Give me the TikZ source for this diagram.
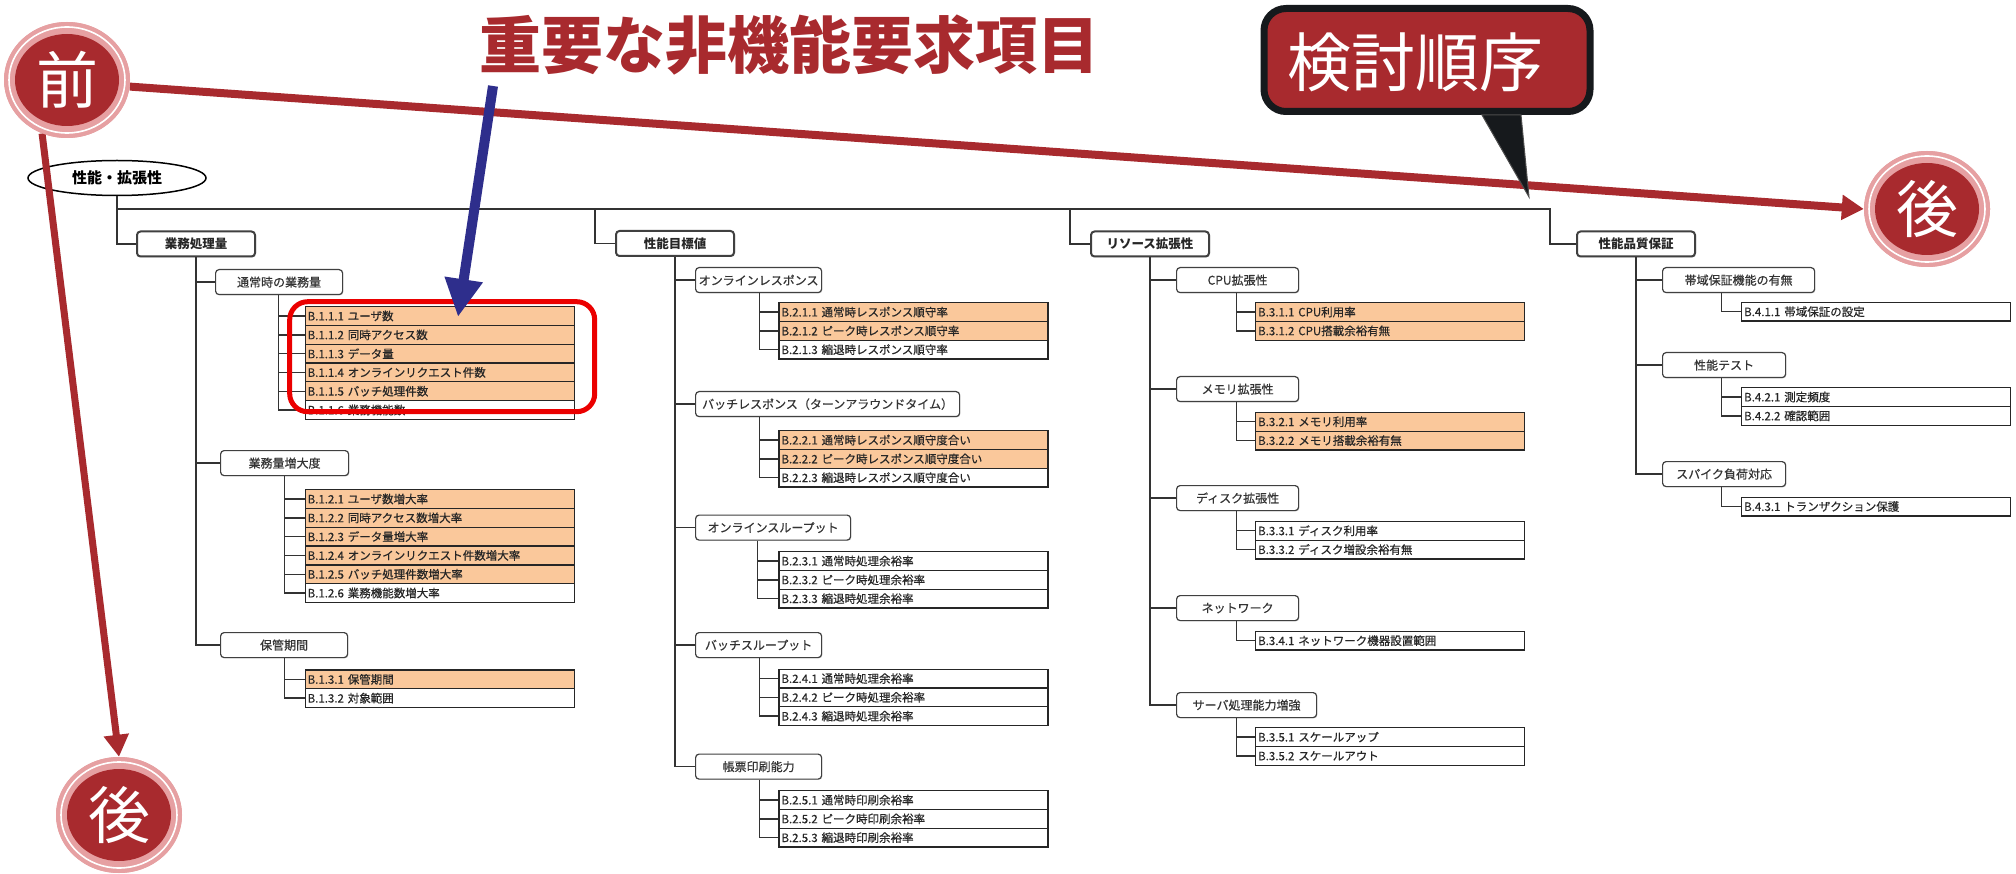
\documentclass[tikz,border=0pt]{standalone}
\usepackage{fontspec}
\setmainfont{Noto Sans CJK JP}
\newfontfamily\jpm[FakeBold=0.5]{Noto Sans CJK JP}
\usetikzlibrary{arrows.meta,shapes.geometric,shadows}
\definecolor{dred}{RGB}{168,42,46}
\definecolor{pinkc}{RGB}{230,160,162}
\definecolor{orfill}{RGB}{250,200,155}
\definecolor{bluea}{RGB}{46,46,140}
\definecolor{hlred}{RGB}{235,0,0}
\definecolor{calloutb}{RGB}{22,25,28}
\begin{document}
\begin{tikzpicture}[x=1pt,y=-1pt,
  conn/.style={draw=black!80, line width=1.4pt},
  leafbox/.style={draw=black!85, line width=1.3pt, fill=white, anchor=north west,
    minimum height=18.8pt, text width=264pt, inner xsep=2.5pt, inner ysep=0pt,
    align=left, font=\jpm\fontsize{11.5}{13}\selectfont, text=black!85},
  leafo/.style={leafbox, fill=orfill},
  midbox/.style={draw=black!75, line width=1.2pt, rounded corners=3.5pt, fill=white,
    anchor=north west, minimum height=25pt, inner sep=0pt,
    font=\jpm\fontsize{12}{14}\selectfont, text=black!80,
    drop shadow={shadow xshift=0.8pt, shadow yshift=-0.8pt, fill=black!25}},
  topbox/.style={draw=black!75, line width=2pt, rounded corners=3.5pt, fill=white,
    anchor=north west, minimum height=25pt, minimum width=118pt, inner sep=0pt,
    font=\bfseries\fontsize{12.5}{14}\selectfont, text=black!85,
    drop shadow={shadow xshift=1pt, shadow yshift=-1pt, fill=black!35}},
  redarr/.style={draw=dred, line width=8pt, -{Triangle[width=24pt,length=22pt]}},
  circout/.style={ellipse, fill=pinkc, minimum width=126pt, minimum height=116pt, inner sep=0pt},
  circring/.style={ellipse, draw=white, line width=1.6pt, minimum width=116pt, minimum height=106pt, inner sep=0pt},
  circin/.style={ellipse, fill=dred, minimum width=104pt, minimum height=92pt, inner sep=0pt},
  circtxt/.style={inner sep=0pt, text=white, font=\fontsize{62}{64}\selectfont}
]
\useasboundingbox (0,0) rectangle (2016,874);
\fill[white] (0,0) rectangle (2016,874);

% root
\node[ellipse, draw=black, line width=1.5pt, minimum width=178pt, minimum height=35pt, inner sep=0pt,
  font=\bfseries\fontsize{15}{17}\selectfont] (root) at (117,178) {性能・拡張性};

% level 1
\node[topbox] (m1) at (136,230.5) {業務処理量};
\node[topbox] (m2) at (615,230) {性能目標値};
\node[topbox] (m3) at (1090,230.5) {リソース拡張性};
\node[topbox] (m4) at (1576,230.5) {性能品質保証};

\coordinate (bus2) at (595,209);
\coordinate (bus3) at (1070,209);
\coordinate (bus4) at (1550,209);
\draw[conn] (root.south) |- (m1.west);
\draw[conn] (root.south |- bus4) -- (bus4) |- (m4.west);
\draw[conn] (bus2) |- (m2.west);
\draw[conn] (bus3) |- (m3.west);

% level 2
\node[midbox, minimum width=127pt] (n11) at (215,269) {通常時の業務量};
\node[midbox, minimum width=128pt] (n12) at (220,450) {業務量増大度};
\node[midbox, minimum width=127pt] (n13) at (220,632) {保管期間};
\node[midbox, minimum width=126pt] (n21) at (695,267) {オンラインレスポンス};
\node[midbox, minimum width=264pt] (n22) at (695,391) {バッチレスポンス（ターンアラウンドタイム）};
\node[midbox, minimum width=155pt] (n23) at (695,514.5) {オンラインスループット};
\node[midbox, minimum width=126pt] (n24) at (695,632) {バッチスループット};
\node[midbox, minimum width=126pt] (n25) at (695,753.5) {帳票印刷能力};
\node[midbox, minimum width=122pt] (n31) at (1176,267) {CPU拡張性};
\node[midbox, minimum width=122pt] (n32) at (1176,376) {メモリ拡張性};
\node[midbox, minimum width=122pt] (n33) at (1176,485) {ディスク拡張性};
\node[midbox, minimum width=122pt] (n34) at (1176,595) {ネットワーク};
\node[midbox, minimum width=140pt] (n35) at (1176,692) {サーバ処理能力増強};
\node[midbox, minimum width=152pt] (n41) at (1662,267) {帯域保証機能の有無};
\node[midbox, minimum width=123pt] (n42) at (1662,352) {性能テスト};
\node[midbox, minimum width=123pt] (n43) at (1662,461) {スパイク負荷対応};

\draw[conn] (m1.south) |- (n13.west);
\foreach \n in {n11,n12} \draw[conn] (m1.south |- \n.west) -- (\n.west);
\draw[conn] (m2.south) |- (n25.west);
\foreach \n in {n21,n22,n23,n24} \draw[conn] (m2.south |- \n.west) -- (\n.west);
\draw[conn] (m3.south) |- (n35.west);
\foreach \n in {n31,n32,n33,n34} \draw[conn] (m3.south |- \n.west) -- (\n.west);
\draw[conn] (m4.south) |- (n43.west);
\foreach \n in {n41,n42} \draw[conn] (m4.south |- \n.west) -- (\n.west);

% leaves column 1
\node[leafo] (a1) at (304.5,306) {B.1.1.1 ユーザ数};
\node[leafo] (a2) at (304.5,324.8) {B.1.1.2 同時アクセス数};
\node[leafo] (a3) at (304.5,343.6) {B.1.1.3 データ量};
\node[leafo] (a4) at (304.5,362.4) {B.1.1.4 オンラインリクエスト件数};
\node[leafo] (a5) at (304.5,381.2) {B.1.1.5 バッチ処理件数};
\node[leafbox] (a6) at (304.5,400) {B.1.1.6 業務機能数};

\node[leafo] (b1) at (304.5,489) {B.1.2.1 ユーザ数増大率};
\node[leafo] (b2) at (304.5,507.8) {B.1.2.2 同時アクセス数増大率};
\node[leafo] (b3) at (304.5,526.6) {B.1.2.3 データ量増大率};
\node[leafo] (b4) at (304.5,545.4) {B.1.2.4 オンラインリクエスト件数増大率};
\node[leafo] (b5) at (304.5,564.2) {B.1.2.5 バッチ処理件数増大率};
\node[leafbox] (b6) at (304.5,583) {B.1.2.6 業務機能数増大率};

\node[leafo] (c1) at (304.5,669.3) {B.1.3.1 保管期間};
\node[leafbox] (c2) at (304.5,688.1) {B.1.3.2 対象範囲};

% leaves column 2
\node[leafo] (d1) at (778.3,302) {B.2.1.1 通常時レスポンス順守率};
\node[leafo] (d2) at (778.3,320.8) {B.2.1.2 ピーク時レスポンス順守率};
\node[leafbox] (d3) at (778.3,339.6) {B.2.1.3 縮退時レスポンス順守率};

\node[leafo] (e1) at (778.3,430) {B.2.2.1 通常時レスポンス順守度合い};
\node[leafo] (e2) at (778.3,448.8) {B.2.2.2 ピーク時レスポンス順守度合い};
\node[leafbox] (e3) at (778.3,467.6) {B.2.2.3 縮退時レスポンス順守度合い};

\node[leafbox] (f1) at (778.3,551) {B.2.3.1 通常時処理余裕率};
\node[leafbox] (f2) at (778.3,569.8) {B.2.3.2 ピーク時処理余裕率};
\node[leafbox] (f3) at (778.3,588.6) {B.2.3.3 縮退時処理余裕率};

\node[leafbox] (g1) at (778.3,668.5) {B.2.4.1 通常時処理余裕率};
\node[leafbox] (g2) at (778.3,687.3) {B.2.4.2 ピーク時処理余裕率};
\node[leafbox] (g3) at (778.3,706.1) {B.2.4.3 縮退時処理余裕率};

\node[leafbox] (h1) at (778.3,790) {B.2.5.1 通常時印刷余裕率};
\node[leafbox] (h2) at (778.3,808.8) {B.2.5.2 ピーク時印刷余裕率};
\node[leafbox] (h3) at (778.3,827.6) {B.2.5.3 縮退時印刷余裕率};

% leaves column 3
\node[leafo] (i1) at (1255,302) {B.3.1.1 CPU利用率};
\node[leafo] (i2) at (1255,320.8) {B.3.1.2 CPU搭載余裕有無};
\node[leafo] (j1) at (1255,411.7) {B.3.2.1 メモリ利用率};
\node[leafo] (j2) at (1255,430.5) {B.3.2.2 メモリ搭載余裕有無};
\node[leafbox] (k1) at (1255,520.7) {B.3.3.1 ディスク利用率};
\node[leafbox] (k2) at (1255,539.5) {B.3.3.2 ディスク増設余裕有無};
\node[leafbox] (l1) at (1255,630.6) {B.3.4.1 ネットワーク機器設置範囲};
\node[leafbox] (mm1) at (1255,727) {B.3.5.1 スケールアップ};
\node[leafbox] (mm2) at (1255,745.8) {B.3.5.2 スケールアウト};

% leaves column 4
\node[leafbox] (nn1) at (1741,301.7) {B.4.1.1 帯域保証の設定};
\node[leafbox] (o1) at (1741,387) {B.4.2.1 測定頻度};
\node[leafbox] (o2) at (1741,405.8) {B.4.2.2 確認範囲};
\node[leafbox] (p1) at (1741,496.5) {B.4.3.1 トランザクション保護};

% leaf connectors
\coordinate (tA) at ([xshift=-26pt]a1.west);
\draw[conn] (tA |- n11.south) |- (a6.west);
\foreach \n in {a1,a2,a3,a4,a5} \draw[conn] (tA |- \n.west) -- (\n.west);
\coordinate (tB) at ([xshift=-20pt]b1.west);
\draw[conn] (tB |- n12.south) |- (b6.west);
\foreach \n in {b1,b2,b3,b4,b5} \draw[conn] (tB |- \n.west) -- (\n.west);
\coordinate (tC) at ([xshift=-20pt]c1.west);
\draw[conn] (tC |- n13.south) |- (c2.west);
\draw[conn] (tC |- c1.west) -- (c1.west);

\coordinate (tD) at ([xshift=-19pt]d1.west);
\draw[conn] (tD |- n21.south) |- (d3.west);
\foreach \n in {d1,d2} \draw[conn] (tD |- \n.west) -- (\n.west);
\coordinate (tE) at ([xshift=-19pt]e1.west);
\draw[conn] (tE |- n22.south) |- (e3.west);
\foreach \n in {e1,e2} \draw[conn] (tE |- \n.west) -- (\n.west);
\coordinate (tF) at ([xshift=-21pt]f1.west);
\draw[conn] (tF |- n23.south) |- (f3.west);
\foreach \n in {f1,f2} \draw[conn] (tF |- \n.west) -- (\n.west);
\coordinate (tG) at ([xshift=-19pt]g1.west);
\draw[conn] (tG |- n24.south) |- (g3.west);
\foreach \n in {g1,g2} \draw[conn] (tG |- \n.west) -- (\n.west);
\coordinate (tH) at ([xshift=-19pt]h1.west);
\draw[conn] (tH |- n25.south) |- (h3.west);
\foreach \n in {h1,h2} \draw[conn] (tH |- \n.west) -- (\n.west);

\coordinate (tI) at ([xshift=-18.5pt]i1.west);
\draw[conn] (tI |- n31.south) |- (i2.west);
\draw[conn] (tI |- i1.west) -- (i1.west);
\coordinate (tJ) at ([xshift=-18.5pt]j1.west);
\draw[conn] (tJ |- n32.south) |- (j2.west);
\draw[conn] (tJ |- j1.west) -- (j1.west);
\coordinate (tK) at ([xshift=-18.5pt]k1.west);
\draw[conn] (tK |- n33.south) |- (k2.west);
\draw[conn] (tK |- k1.west) -- (k1.west);
\coordinate (tL) at ([xshift=-18.5pt]l1.west);
\draw[conn] (tL |- n34.south) |- (l1.west);
\coordinate (tM) at ([xshift=-18.5pt]mm1.west);
\draw[conn] (tM |- n35.south) |- (mm2.west);
\draw[conn] (tM |- mm1.west) -- (mm1.west);

\coordinate (tN) at ([xshift=-19.5pt]nn1.west);
\draw[conn] (tN |- n41.south) |- (nn1.west);
\coordinate (tO) at ([xshift=-19.5pt]o1.west);
\draw[conn] (tO |- n42.south) |- (o2.west);
\draw[conn] (tO |- o1.west) -- (o1.west);
\coordinate (tP) at ([xshift=-19.5pt]p1.west);
\draw[conn] (tP |- n43.south) |- (p1.west);

% order circles (placed first so arrows can refer to them)
\node[circout] (pre) at (67,80) {};
\node[circout] (postR) at (1927,209) {};
\node[circout] (postB) at (119,815) {};

% red order arrows
\draw[redarr] (pre.-6) -- (postR.west);
\draw[redarr, line width=7pt] (pre.245) -- (postB.north);

% redraw circle faces on top
\node[circout] (pre-o) at (pre) {};
\node[circring] (pre-r) at (pre) {};
\node[circin] (pre-i) at (pre) {};
\node[circtxt] (pre-t) at (pre) {前};
\node[circout] (postR-o) at (postR) {};
\node[circring] (postR-r) at (postR) {};
\node[circin] (postR-i) at (postR) {};
\node[circtxt] (postR-t) at (postR) {後};
\node[circout] (postB-o) at (postB) {};
\node[circring] (postB-r) at (postB) {};
\node[circin] (postB-i) at (postB) {};
\node[circtxt] (postB-t) at (postB) {後};

% callout
\node[draw=calloutb, line width=7pt, fill=dred, rounded corners=22pt, minimum width=326pt,
  minimum height=103pt, inner sep=0pt] (cb) at (1427,60) {};
\node[inner sep=0pt, text=white, font=\fontsize{64}{70}\selectfont] (cbt) at (1415,62) {検討順序};
\coordinate (cbtip) at (1529,197);
\filldraw[fill=calloutb, draw=black!70, line width=1pt] ([xshift=55pt]cb.south) -- (cbtip) -- ([xshift=94pt]cb.south) -- cycle;

% title
\node[text=dred, inner sep=0pt, font=\bfseries\fontsize{62}{64}\selectfont] (title) at (789,45) {重要な非機能要求項目};

% highlight box
\node[draw=hlred, line width=5pt, rounded corners=18pt, minimum width=305pt, minimum height=110pt,
  inner sep=0pt, anchor=north west] (hl) at (287.2,299.2) {};

% blue arrow
\coordinate (bstart) at (493,86);
\coordinate (btip) at (458,317);
\draw[draw=bluea, line width=10pt, -{Triangle[width=36pt,length=38pt]}] (bstart) -- (btip);
\end{tikzpicture}
\end{document}
